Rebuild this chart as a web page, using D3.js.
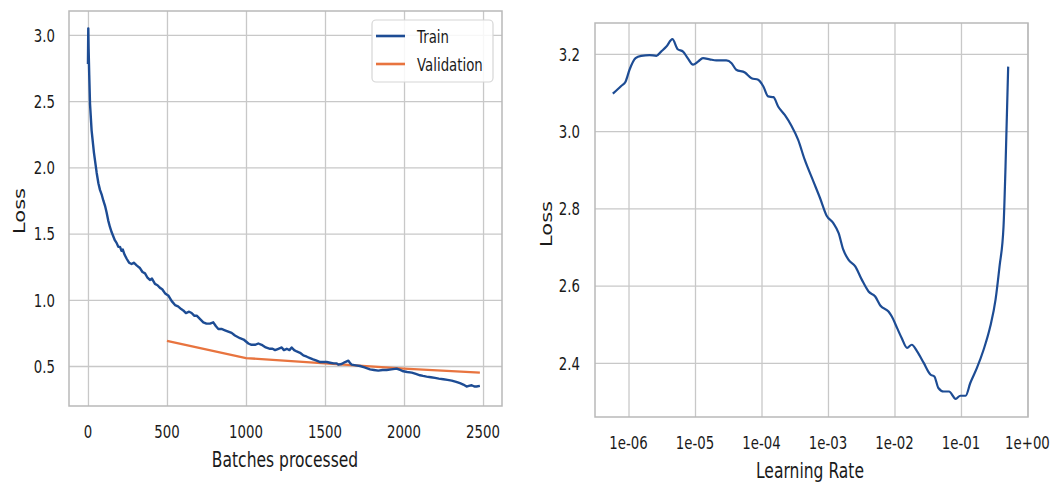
<!DOCTYPE html>
<html>
<head>
<meta charset="utf-8">
<script src="https://cdn.jsdelivr.net/npm/d3@7"></script>
<style>
  body { margin: 0; background: #fff; }
  svg { display: block; }
  text { font-family: "DejaVu Sans", sans-serif; fill: #1a1a1a; }
</style>
</head>
<body>
<svg id="chart"></svg>
<script>
// training loss
const trainSteps = [0, 2, 4, 8, 13, 23, 38, 55, 66, 76, 88, 97, 108, 118, 128, 139, 150, 160, 170, 181,
  192, 203, 212, 220, 232, 245, 260, 276, 290, 308, 318, 329, 345, 361, 375, 392, 405, 424, 440, 456,
  470, 487, 498, 510, 530, 551, 570, 590, 603, 620, 640, 656, 672, 688, 705, 730, 750, 772, 793, 810,
  825, 845, 867, 888, 909, 930, 962, 985, 1015, 1035, 1057, 1078, 1099, 1125, 1152, 1168, 1184, 1205,
  1226, 1240, 1258, 1275, 1289, 1305, 1321, 1342, 1363, 1385, 1405, 1425, 1447, 1470, 1490, 1511, 1532,
  1555, 1574, 1584, 1605, 1627, 1648, 1660, 1669, 1695, 1722, 1750, 1785, 1810, 1837, 1865, 1890, 1920,
  1953, 1975, 1996, 2020, 2049, 2075, 2101, 2120, 2143, 2170, 2196, 2220, 2249, 2275, 2302, 2330, 2354,
  2375, 2396, 2410, 2428, 2445, 2459, 2480];
const trainLoss = [2.78, 3.05, 2.90, 2.70, 2.48, 2.28, 2.11, 1.96, 1.88, 1.83, 1.79, 1.75, 1.71, 1.66, 1.60, 1.55, 1.51, 1.48, 1.45, 1.43,
  1.40, 1.40, 1.37, 1.38, 1.34, 1.31, 1.28, 1.27, 1.28, 1.26, 1.25, 1.24, 1.21, 1.20, 1.17, 1.15, 1.16, 1.12, 1.11, 1.09,
  1.08, 1.05, 1.04, 1.03, 0.99, 0.96, 0.95, 0.93, 0.92, 0.90, 0.91, 0.90, 0.88, 0.88, 0.86, 0.83, 0.82, 0.82, 0.83, 0.80,
  0.78, 0.78, 0.77, 0.76, 0.75, 0.73, 0.71, 0.70, 0.67, 0.66, 0.66, 0.67, 0.66, 0.64, 0.63, 0.63, 0.62, 0.63,
  0.64, 0.62, 0.63, 0.62, 0.64, 0.62, 0.61, 0.60, 0.58, 0.57, 0.56, 0.55, 0.54, 0.53, 0.53, 0.53, 0.525,
  0.52, 0.52, 0.51, 0.515, 0.53, 0.54, 0.52, 0.51, 0.505, 0.50, 0.49, 0.475, 0.47, 0.465, 0.47, 0.47, 0.475,
  0.48, 0.47, 0.46, 0.455, 0.45, 0.44, 0.43, 0.425, 0.42, 0.415, 0.41, 0.405, 0.40, 0.395, 0.39, 0.38, 0.37,
  0.36, 0.345, 0.35, 0.355, 0.345, 0.345, 0.35];

const valSteps = [500, 1000, 1500, 2000, 2480];
const valLoss = [0.69, 0.56, 0.52, 0.48, 0.45];

// lr finder curve, learning rate kept as log10
const lrExp = [-6.236, -6.11, -6.045, -5.985, -5.894, -5.81, -5.683, -5.58, -5.51, -5.43, -5.34, -5.26, -5.18,
  -5.11, -5.03, -4.955, -4.88, -4.78, -4.68, -4.53, -4.45, -4.38, -4.25, -4.15, -4.05, -3.97, -3.90, -3.82,
  -3.75, -3.65, -3.55, -3.45, -3.35, -3.22, -3.12, -3.02, -2.92, -2.84, -2.77, -2.69, -2.59, -2.49, -2.39,
  -2.29, -2.21, -2.09, -2.04, -1.96, -1.89, -1.81, -1.74, -1.66, -1.56, -1.46, -1.40, -1.34, -1.26, -1.18,
  -1.08, -1.01, -0.93, -0.86, -0.76, -0.66, -0.56, -0.48, -0.42, -0.36, -0.33, -0.29];
const lrLoss = [3.097, 3.117, 3.128, 3.159, 3.189, 3.195, 3.197, 3.195, 3.206, 3.219, 3.238, 3.212, 3.206,
  3.189, 3.172, 3.18, 3.189, 3.186, 3.183, 3.183, 3.176, 3.159, 3.152, 3.137, 3.133, 3.115, 3.09, 3.088,
  3.064, 3.042, 3.014, 2.978, 2.926, 2.870, 2.827, 2.781, 2.762, 2.736, 2.693, 2.667, 2.650, 2.615, 2.585,
  2.572, 2.548, 2.533, 2.520, 2.490, 2.464, 2.439, 2.447, 2.430, 2.400, 2.370, 2.365, 2.335, 2.326, 2.326,
  2.307, 2.315, 2.315, 2.348, 2.387, 2.434, 2.494, 2.564, 2.650, 2.753, 2.908, 3.167];

const batchTicks = [0, 500, 1000, 1500, 2000, 2500];
const batchTickLabels = ["0", "500", "1000", "1500", "2000", "2500"];
const lossTicksLeft = [0.5, 1.0, 1.5, 2.0, 2.5, 3.0];
const lossTickLabelsLeft = ["0.5", "1.0", "1.5", "2.0", "2.5", "3.0"];
const lrTicks = [1e-6, 1e-5, 1e-4, 1e-3, 1e-2, 1e-1, 1e0];
const lrTickLabels = ["1e-06", "1e-05", "1e-04", "1e-03", "1e-02", "1e-01", "1e+00"];
const lossTicksRight = [2.4, 2.6, 2.8, 3.0, 3.2];
const lossTickLabelsRight = ["2.4", "2.6", "2.8", "3.0", "3.2"];

const legendNames = ["Train", "Validation"];

const blue = "#1d4c94", orange = "#e8743f";
const gridColor = "#c8c8c8", frameColor = "#b9b9b9";
const tickSize = 18.5, titleSize = 21;
const tickSqueeze = 0.72, titleSqueeze = 0.74;   // the picture's text is narrow

const width = 1051, height = 482;
const svg = d3.select("#chart").attr("width", width).attr("height", height);

// narrow text drawn at (x, y)
function label(g, x, y, str, anchor, size, sq) {
    return g.append("text")
        .attr("transform", `translate(${x},${y}) scale(${sq},1)`)
        .attr("text-anchor", anchor)
        .attr("font-size", size)
        .text(str);
}

function drawFrame(g, x, y) {
    const [x0, x1] = x.range(), [y1, y0] = y.range();
    g.append("rect")
        .attr("x", x0).attr("y", y0)
        .attr("width", x1 - x0).attr("height", y1 - y0)
        .attr("fill", "none")
        .attr("stroke", frameColor)
        .attr("stroke-width", 1.5);
}

function drawGrid(g, x, y, xt, yt) {
    const [x0, x1] = x.range(), [y1, y0] = y.range();
    g.append("g").attr("transform", `translate(0,${y1})`)
        .call(d3.axisBottom(x).tickValues(xt).tickSize(-(y1 - y0)).tickFormat(""))
        .call(a => a.select(".domain").remove())
        .call(a => a.selectAll("line").attr("stroke", gridColor).attr("stroke-width", 1.3));
    g.append("g").attr("transform", `translate(${x0},0)`)
        .call(d3.axisLeft(y).tickValues(yt).tickSize(-(x1 - x0)).tickFormat(""))
        .call(a => a.select(".domain").remove())
        .call(a => a.selectAll("line").attr("stroke", gridColor).attr("stroke-width", 1.3));
}

function yTitle(g, x, y) {
    g.append("text")
        .attr("transform", `translate(${x},${y}) rotate(-90) scale(1,${titleSqueeze})`)
        .attr("text-anchor", "middle")
        .attr("font-size", titleSize)
        .text("Loss");
}

// ---- left panel: batches vs loss
const xL = d3.scaleLinear().domain([-120, 2620]).range([69, 502]);
const yL = d3.scaleLinear().domain([0.198, 3.181]).range([406, 11]);
const left = svg.append("g");

drawGrid(left, xL, yL, batchTicks, lossTicksLeft);

const lineL = d3.line().x(d => xL(d[0])).y(d => yL(d[1]));
left.append("path")
    .datum(d3.zip(valSteps, valLoss))
    .attr("d", lineL)
    .attr("fill", "none").attr("stroke", orange).attr("stroke-width", 2.3);
left.append("path")
    .datum(d3.zip(trainSteps, trainLoss))
    .attr("d", lineL)
    .attr("fill", "none").attr("stroke", blue).attr("stroke-width", 2.4)
    .attr("stroke-linejoin", "round");

drawFrame(left, xL, yL);

batchTicks.forEach((t, i) => label(left, xL(t), 438, batchTickLabels[i], "middle", tickSize, tickSqueeze));
lossTicksLeft.forEach((t, i) => label(left, 55, yL(t) + 6.7, lossTickLabelsLeft[i], "end", tickSize, tickSqueeze));
label(left, 285, 467, "Batches processed", "middle", titleSize, titleSqueeze);
yTitle(left, 25, 211);

// legend
const legend = left.append("g");
legend.append("rect")
    .attr("x", 372).attr("y", 20).attr("width", 121).attr("height", 62).attr("rx", 4)
    .attr("fill", "#fff").attr("fill-opacity", 0.85)
    .attr("stroke", "#d6d6d6").attr("stroke-width", 1.2);
const legendColors = [blue, orange];
const legendY = [36, 64];
legendNames.forEach((name, i) => {
    legend.append("line")
        .attr("x1", 376).attr("x2", 405)
        .attr("y1", legendY[i]).attr("y2", legendY[i])
        .attr("stroke", legendColors[i]).attr("stroke-width", 2.6);
    label(legend, 417, legendY[i] + 6.6, name, "start", tickSize, tickSqueeze);
});

// ---- right panel: learning rate vs loss
const xR = d3.scaleLog().domain([Math.pow(10, -6.504), Math.pow(10, 0.008)]).range([595, 1028]);
const yR = d3.scaleLinear().domain([2.26, 3.28]).range([417, 23]);
const right = svg.append("g");

drawGrid(right, xR, yR, lrTicks, lossTicksRight);

const lrRates = lrExp.map(e => Math.pow(10, e));
right.append("path")
    .datum(d3.zip(lrRates, lrLoss))
    .attr("d", d3.line().curve(d3.curveMonotoneX).x(d => xR(d[0])).y(d => yR(d[1])))
    .attr("fill", "none").attr("stroke", blue).attr("stroke-width", 2.2)
    .attr("stroke-linejoin", "round");

drawFrame(right, xR, yR);

lrTicks.forEach((t, i) => label(right, xR(t), 449, lrTickLabels[i], "middle", tickSize, tickSqueeze));
lossTicksRight.forEach((t, i) => label(right, 580, yR(t) + 6.7, lossTickLabelsRight[i], "end", tickSize, tickSqueeze));
label(right, 810, 478, "Learning Rate", "middle", titleSize, titleSqueeze);
yTitle(right, 552, 224);
</script>
</body>
</html>
